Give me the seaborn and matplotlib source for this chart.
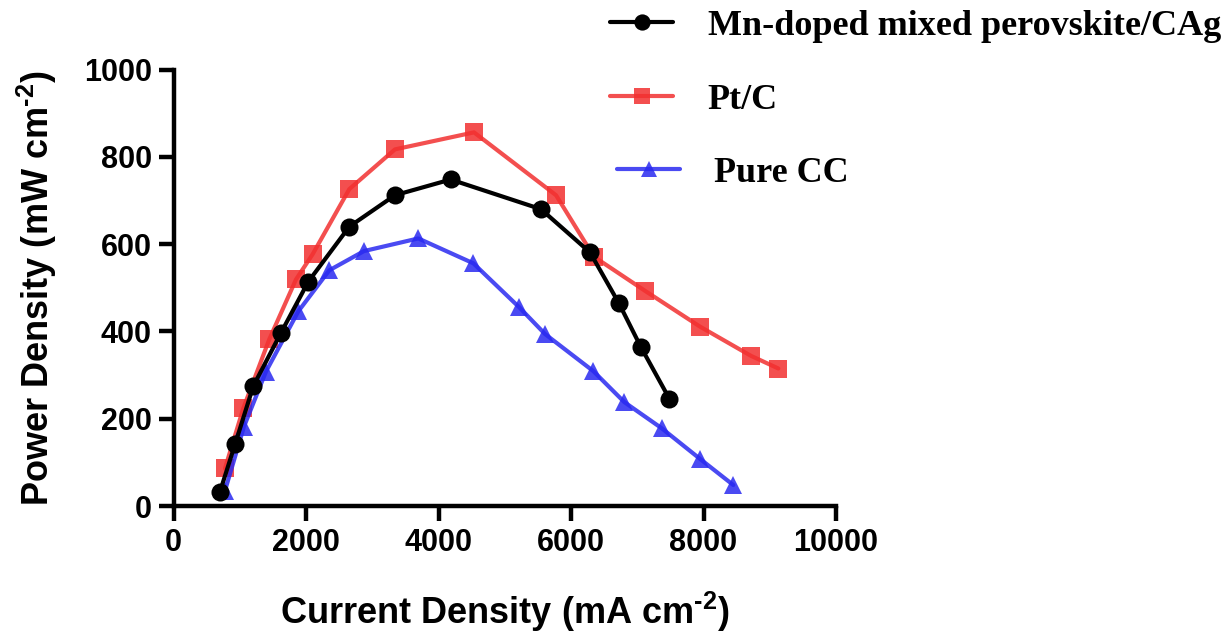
import numpy as np
import pandas as pd
import matplotlib
matplotlib.use("Agg")
import matplotlib.pyplot as plt
import seaborn as sns

# Power density curves vs current density for three cathode materials
mn_current = [702, 928, 1205, 1623, 2035, 2654, 3343, 4184, 5547, 6287, 6725, 7052, 7484]
mn_power = [33, 141, 275, 397, 514, 640, 712, 748, 680, 581, 464, 365, 246]

ptc_current = [777, 1054, 1446, 1849, 2101, 2654, 3343, 4536, 5774, 6347, 7117, 7947, 8717, 9130]
ptc_power = [86, 224, 382, 519, 577, 726, 817, 856, 712, 571, 493, 411, 344, 315]

cc_current = [777, 1064, 1396, 1884, 2352, 2875, 3695, 4526, 5220, 5608, 6337, 6805, 7370, 7947, 8450]
cc_power = [35, 182, 308, 446, 540, 584, 613, 556, 455, 394, 309, 238, 178, 108, 48]

series_names = ["Mn-doped mixed perovskite/CAg", "Pt/C", "Pure CC"]
x_ticks = [0, 2000, 4000, 6000, 8000, 10000]
y_ticks = [0, 200, 400, 600, 800, 1000]

frames = []
for name, xs, ys in zip(series_names,
                        [mn_current, ptc_current, cc_current],
                        [mn_power, ptc_power, cc_power]):
    frames.append(pd.DataFrame({"current": xs, "power": ys, "sample": name}))
data = pd.concat(frames, ignore_index=True)

sns.set_style("white")
plt.rcParams["font.family"] = ["Liberation Sans", "DejaVu Sans"]
plt.rcParams["mathtext.fontset"] = "custom"
plt.rcParams["mathtext.bf"] = "Liberation Sans:bold"
plt.rcParams["mathtext.rm"] = "Liberation Sans:bold"
plt.rcParams["mathtext.default"] = "bf"
plt.rcParams["axes.labelcolor"] = "black"
plt.rcParams["text.color"] = "black"

fig = plt.figure(figsize=(12.28, 6.36), dpi=100)
ax = fig.add_axes([173.5 / 1228, 1 - 506 / 636, (836 - 173.5) / 1228, (506 - 69.5) / 636])

styles = {
    "Mn-doped mixed perovskite/CAg": dict(color="#000000", marker="o", ms=13, alpha=1.0, z=4),
    "Pt/C": dict(color="#f23030", marker="s", ms=12.5, alpha=0.85, z=2),
    "Pure CC": dict(color="#2a2af0", marker="^", ms=12.5, alpha=0.85, z=3),
}

for name in series_names:
    st = styles[name]
    sub = data[data["sample"] == name]
    sns.lineplot(data=sub, x="current", y="power", ax=ax, color=st["color"],
                 marker=st["marker"], markersize=st["ms"], markeredgewidth=0,
                 linewidth=3.0, alpha=st["alpha"], estimator=None, sort=False,
                 label=name, zorder=st["z"])

ax.set_xlim(0, 10000)
ax.set_ylim(0, 1000)
ax.set_xticks(x_ticks)
ax.set_yticks(y_ticks)
ax.set_xticklabels([str(t) for t in x_ticks])
ax.set_yticklabels([str(t) for t in y_ticks])

for side in ["top", "right"]:
    ax.spines[side].set_visible(False)
for side in ["left", "bottom"]:
    ax.spines[side].set_linewidth(3.2)
    ax.spines[side].set_color("black")
ax.tick_params(axis="both", which="major", direction="out", length=10.5, width=3.2,
               labelsize=22, colors="black", pad=5, left=True, bottom=True)
for lab in ax.get_xticklabels() + ax.get_yticklabels():
    lab.set_fontweight("bold")

ax.set_xlabel(r"Current Density (mA cm$^{\text{-2}}$)", fontsize=26, fontweight="bold",
              labelpad=23, color="black")
ax.set_ylabel(r"Power Density (mW cm$^{\text{-2}}$)", fontsize=26, fontweight="bold",
              labelpad=18, color="black")

handles, labels = ax.get_legend_handles_labels()
if ax.get_legend() is not None:
    ax.get_legend().remove()

# one legend entry per row, placed to the upper right of the axes
rows = {
    "Mn-doped mixed perovskite/CAg": (610, 26),
    "Pt/C": (610, 100),
    "Pure CC": (617, 173),
}
for h, lab in zip(handles, labels):
    x0, y0 = rows[lab]
    leg = fig.legend([h], [lab], loc="center left",
                     bbox_to_anchor=(x0 / 1228, 1 - y0 / 636),
                     bbox_transform=fig.transFigure, frameon=False,
                     borderpad=0, borderaxespad=0, handlelength=1.75,
                     handletextpad=0.95,
                     prop={"family": "Liberation Serif", "weight": "bold", "size": 26})
    for text in leg.get_texts():
        text.set_color("black")
    for line in leg.get_lines():
        line.set_markersize(styles[lab]["ms"] * 0.9)
        line.set_linewidth(3.0)

fig.savefig("out.png", dpi=100)
